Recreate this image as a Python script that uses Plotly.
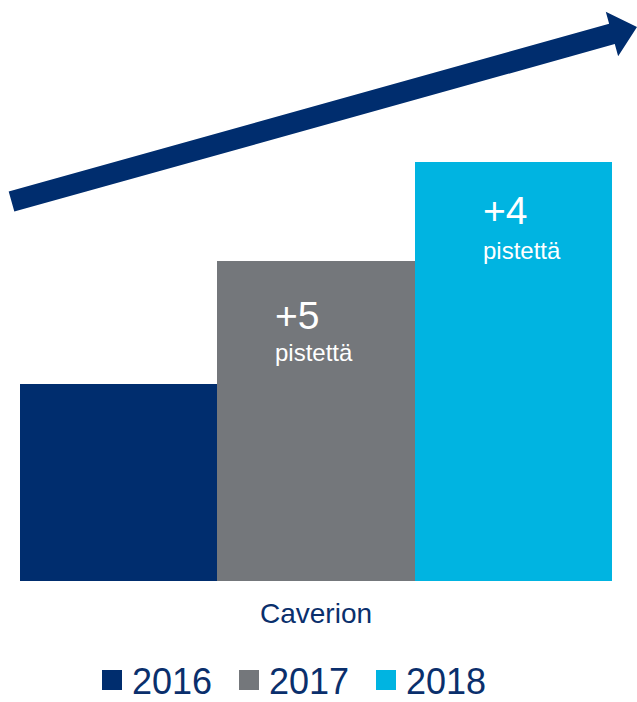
import numpy as np
import plotly.graph_objects as go

# ---- data ----
categories = ["Caverion"]
years = ["2016", "2017", "2018"]
values_2016 = [8]
values_2017 = [13]
values_2018 = [17]
changes = ["+5", "+4"]          # change vs previous year
change_unit = "pistettä"

NAVY = "#002D6E"
GRAY = "#74777B"
CYAN = "#00B4E1"
TEXT_NAVY = "#0A2F6C"
FONT = "Liberation Sans, Arial, sans-serif"

W, H = 637, 702
L, R, T, B = 20, 25, 20, 121
PW, PH = W - L - R, H - T - B
PLOT_BOT = H - B
YMAX = 22.76

fig = go.Figure()
series = [values_2016, values_2017, values_2018]
colors = [NAVY, GRAY, CYAN]
for yr, vals, col in zip(years, series, colors):
    fig.add_trace(go.Bar(x=categories, y=vals, name=yr, marker=dict(color=col, line=dict(width=0)),
                         showlegend=False, hoverinfo="skip"))
# legend entries (square markers, larger than bar legend symbols)
for yr, col in zip(years, colors):
    fig.add_trace(go.Scatter(x=[None], y=[None], mode="markers", name=yr,
                             marker=dict(symbol="square", size=16, color=col,
                                         line=dict(color=col, width=4))))

# annotations for changes, placed inside the 2017 and 2018 bars
ann_x = [-0.073, 0.279]
ann_big_y = [10.79, 15.05]
ann_small_y = [9.28, 13.4]
ann = []
for i, chg in enumerate(changes):
    ann.append(dict(x=ann_x[i], y=ann_big_y[i], xref="x", yref="y", text=chg, showarrow=False,
                    xanchor="left", yanchor="middle", font=dict(size=39, color="white", family=FONT)))
    ann.append(dict(x=ann_x[i], y=ann_small_y[i], xref="x", yref="y", text=change_unit, showarrow=False,
                    xanchor="left", yanchor="middle", font=dict(size=24, color="white", family=FONT)))

# rising arrow drawn as a polygon (pixel geometry -> paper coords)
def to_paper(px, py):
    return (px - L) / PW, (PLOT_BOT - py) / PH

tail = np.array([11.5, 201.5])
tip = np.array([637.0, 27.0])
d = tip - tail
u = d / np.linalg.norm(d)
n = np.array([-u[1], u[0]])
half_shaft = 10.5
head_len = 26.0
half_head = 23.0
base = tip - u * head_len
pts = [tail + n * half_shaft, base + n * half_shaft, base + n * half_head, tip,
       base - n * half_head, base - n * half_shaft, tail - n * half_shaft]
path = "M " + " L ".join("%.5f,%.5f" % to_paper(*p) for p in pts) + " Z"

fig.update_layout(
    width=W, height=H,
    margin=dict(l=L, r=R, t=T, b=B, autoexpand=False),
    paper_bgcolor="white", plot_bgcolor="white",
    barmode="group", bargap=0, bargroupgap=0,
    font=dict(family=FONT, color=TEXT_NAVY),
    xaxis=dict(showgrid=False, zeroline=False, showline=False, ticks="",
               tickfont=dict(size=28, color=TEXT_NAVY, family=FONT), ticklabelstandoff=13,
               fixedrange=True),
    yaxis=dict(range=[0, YMAX], visible=False, showgrid=False, fixedrange=True),
    showlegend=True,
    legend=dict(orientation="h", x=(92 - L) / PW, xanchor="left",
                y=(PLOT_BOT - 680) / PH, yanchor="middle", entrywidth=92,
                font=dict(size=36, color=TEXT_NAVY, family=FONT),
                bgcolor="rgba(0,0,0,0)", itemclick=False, itemdoubleclick=False),
    annotations=ann,
    shapes=[dict(type="path", xref="paper", yref="paper", path=path,
                 fillcolor=NAVY, line=dict(width=0), layer="above")],
)

fig.write_html("out.html", config={"displayModeBar": False},
               post_script="document.body.style.margin='0';document.body.style.overflow='hidden';")
